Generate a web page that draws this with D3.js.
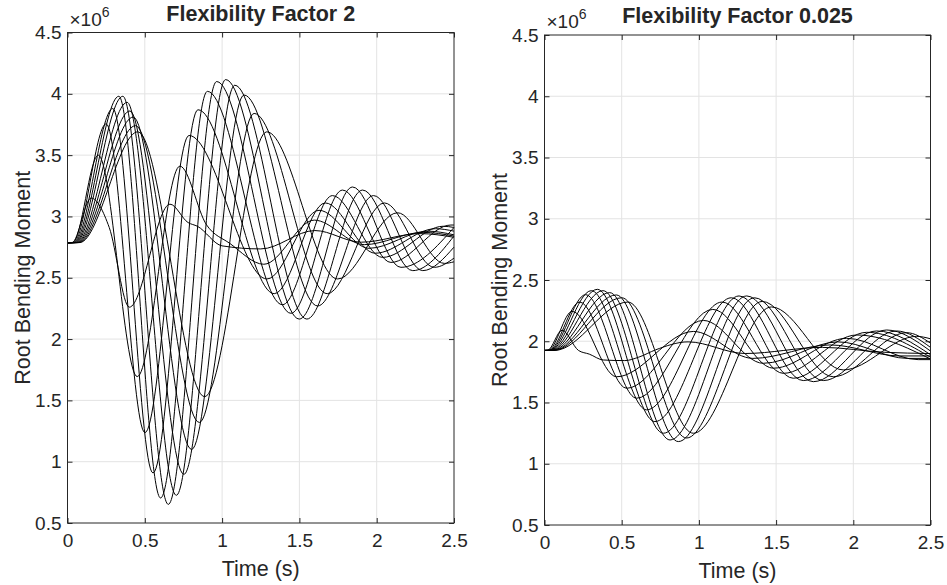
<!DOCTYPE html>
<html>
<head>
<meta charset="utf-8">
<script src="https://cdn.jsdelivr.net/npm/d3@7"></script>
<style>
  body { margin: 0; background: #fff; }
  text { font-family: "Liberation Sans", Arial, Helvetica, sans-serif; fill: #262626; }
</style>
</head>
<body>
<svg id="fig" width="947" height="585"></svg>
<script>
// Root bending moment (x10^6) versus time for a family of gust cases.
const timeTicks = [0, 0.5, 1, 1.5, 2, 2.5];
const momentTicks = [0.5, 1, 1.5, 2, 2.5, 3, 3.5, 4, 4.5];

// Flexibility factor 2: one [time, moment] list per gust case (peaks/troughs and turning points)
const flex2Curves = [
  [[0,2.785],[0.03,2.787],[0.153,3.15],[0.27,2.91],[0.40,2.26],[0.663,3.10],[0.78,2.95],[0.84,2.92],[1.0,2.76],[1.25,2.735],[1.6,2.885],[1.9,2.79],[2.28,2.86],[2.5,2.83]],
  [[0,2.785],[0.035,2.787],[0.199,3.50],[0.451,1.694],[0.727,3.41],[0.9,2.93],[1.05,2.78],[1.27,2.61],[1.596,2.97],[1.92,2.77],[2.3,2.87],[2.5,2.84]],
  [[0,2.785],[0.04,2.787],[0.25,3.755],[0.501,1.237],[0.786,3.66],[1.29,2.49],[1.627,3.05],[1.95,2.74],[2.33,2.88],[2.5,2.85]],
  [[0,2.785],[0.045,2.787],[0.293,3.88],[0.553,0.908],[0.844,3.87],[1.337,2.37],[1.667,3.11],[1.99,2.70],[2.38,2.90],[2.5,2.88]],
  [[0,2.785],[0.05,2.787],[0.332,3.98],[0.602,0.704],[0.905,4.02],[1.39,2.28],[1.714,3.17],[2.038,2.666],[2.43,2.92],[2.5,2.91]],
  [[0,2.785],[0.055,2.787],[0.358,3.98],[0.652,0.652],[0.965,4.10],[1.445,2.21],[1.779,3.215],[2.092,2.625],[2.48,2.93],[2.5,2.93]],
  [[0,2.785],[0.06,2.787],[0.386,3.93],[0.704,0.726],[1.023,4.116],[1.499,2.163],[1.844,3.24],[2.157,2.585],[2.5,2.91]],
  [[0,2.785],[0.065,2.787],[0.404,3.86],[0.753,0.897],[1.082,4.07],[1.548,2.163],[1.909,3.215],[2.233,2.558],[2.5,2.84]],
  [[0,2.785],[0.07,2.787],[0.425,3.81],[0.803,1.10],[1.142,3.99],[1.618,2.27],[1.98,3.17],[2.298,2.558],[2.5,2.75]],
  [[0,2.785],[0.075,2.787],[0.44,3.74],[0.853,1.32],[1.207,3.84],[1.68,2.37],[2.05,3.11],[2.373,2.585],[2.5,2.66]],
  [[0,2.785],[0.08,2.787],[0.455,3.69],[0.887,1.53],[1.289,3.69],[1.747,2.49],[2.135,3.03],[2.438,2.617],[2.5,2.63]]
];

// Flexibility factor 0.025
const flex0025Curves = [
  [[0,1.925],[0.02,1.926],[0.114,2.09],[0.22,1.925],[0.29,1.895],[0.381,1.847],[0.52,1.842],[0.61,1.87],[0.72,1.93],[0.93,1.995],[1.3,1.90],[1.8,1.95],[2.2,1.91],[2.5,1.90]],
  [[0,1.925],[0.025,1.926],[0.179,2.244],[0.467,1.71],[0.964,2.08],[1.35,1.86],[1.85,1.97],[2.3,1.88],[2.5,1.88]],
  [[0,1.925],[0.03,1.926],[0.228,2.32],[0.532,1.616],[1.029,2.17],[1.417,1.82],[1.9,1.995],[2.35,1.86],[2.5,1.86]],
  [[0,1.925],[0.035,1.926],[0.266,2.38],[0.597,1.535],[1.09,2.26],[1.482,1.78],[1.957,2.024],[2.42,1.85],[2.5,1.85]],
  [[0,1.925],[0.04,1.926],[0.303,2.413],[0.661,1.44],[1.15,2.32],[1.547,1.738],[2.022,2.051],[2.5,1.855]],
  [[0,1.925],[0.045,1.926],[0.342,2.424],[0.715,1.344],[1.21,2.355],[1.611,1.698],[2.087,2.073],[2.5,1.87]],
  [[0,1.925],[0.05,1.926],[0.379,2.413],[0.77,1.249],[1.26,2.37],[1.676,1.679],[2.151,2.084],[2.5,1.89]],
  [[0,1.925],[0.055,1.926],[0.422,2.397],[0.813,1.194],[1.31,2.37],[1.741,1.67],[2.216,2.092],[2.5,1.92]],
  [[0,1.925],[0.06,1.926],[0.465,2.378],[0.867,1.181],[1.36,2.355],[1.806,1.679],[2.28,2.084],[2.5,1.95]],
  [[0,1.925],[0.065,1.926],[0.50,2.355],[0.92,1.21],[1.41,2.325],[1.87,1.71],[2.345,2.07],[2.5,1.985]],
  [[0,1.925],[0.07,1.926],[0.54,2.32],[0.964,1.249],[1.47,2.28],[1.935,1.766],[2.41,2.04],[2.5,2.02]]
];

const panels = [
  { title: "Flexibility Factor 2", curves: flex2Curves, left: 67.5, right: 454, top: 32.5, bottom: 523 },
  { title: "Flexibility Factor 0.025", curves: flex0025Curves, left: 544.5, right: 930.5, top: 35, bottom: 525 }
];

const svg = d3.select("#fig");
const axisColor = "#262626";
const gridColor = "#e3e3e3";

panels.forEach(p => {
  const w = p.right - p.left, h = p.bottom - p.top;
  const x = d3.scaleLinear().domain([0, 2.5]).range([0, w]);
  const y = d3.scaleLinear().domain([0.5, 4.5]).range([h, 0]);
  const g = svg.append("g").attr("transform", `translate(${p.left},${p.top})`);

  // grid
  g.append("g").selectAll("line").data(timeTicks.slice(1, -1)).join("line")
    .attr("x1", d => x(d)).attr("x2", d => x(d)).attr("y1", 0).attr("y2", h)
    .attr("stroke", gridColor).attr("stroke-width", 1);
  g.append("g").selectAll("line").data(momentTicks.slice(1, -1)).join("line")
    .attr("y1", d => y(d)).attr("y2", d => y(d)).attr("x1", 0).attr("x2", w)
    .attr("stroke", gridColor).attr("stroke-width", 1);

  // curves
  const line = d3.line().x(d => x(d[0])).y(d => y(d[1])).curve(d3.curveMonotoneX);
  g.append("g").selectAll("path").data(p.curves).join("path")
    .attr("d", line).attr("fill", "none").attr("stroke", "#000").attr("stroke-width", 1);

  // axes, ticks pointing inward on all four sides
  const fmt = d => String(d);
  const style = sel => {
    sel.select(".domain").remove();
    sel.selectAll(".tick line").attr("stroke", axisColor);
    sel.selectAll(".tick text").attr("font-size", 19).attr("fill", axisColor);
  };
  g.append("g").attr("transform", `translate(0,${h})`)
    .call(d3.axisBottom(x).tickValues(timeTicks).tickFormat(fmt).tickSizeInner(-5).tickSizeOuter(0).tickPadding(11)).call(style);
  g.append("g")
    .call(d3.axisLeft(y).tickValues(momentTicks).tickFormat(fmt).tickSizeInner(-5).tickSizeOuter(0).tickPadding(6)).call(style);
  g.append("g")
    .call(d3.axisTop(x).tickValues(timeTicks).tickFormat("").tickSizeInner(-5).tickSizeOuter(0)).call(style);
  g.append("g").attr("transform", `translate(${w},0)`)
    .call(d3.axisRight(y).tickValues(momentTicks).tickFormat("").tickSizeInner(-5).tickSizeOuter(0)).call(style);

  g.append("rect").attr("width", w).attr("height", h)
    .attr("fill", "none").attr("stroke", axisColor).attr("stroke-width", 1);

  // exponent label
  const ex = g.append("text").attr("x", 2).attr("y", -7).attr("font-size", 19);
  ex.append("tspan").text("\u00d710");
  ex.append("tspan").attr("dy", -9).attr("font-size", 14).text("6");

  g.append("text").attr("x", w / 2).attr("y", -12).attr("text-anchor", "middle")
    .attr("font-size", 21.5).attr("font-weight", "bold").attr("fill", "#000").text(p.title);

  g.append("text").attr("x", w / 2).attr("y", h + 53).attr("text-anchor", "middle")
    .attr("font-size", 21.5).text("Time (s)");

  g.append("text").attr("transform", `translate(${-38},${h / 2}) rotate(-90)`)
    .attr("text-anchor", "middle").attr("font-size", 21.5).text("Root Bending Moment");
});
</script>
</body>
</html>
